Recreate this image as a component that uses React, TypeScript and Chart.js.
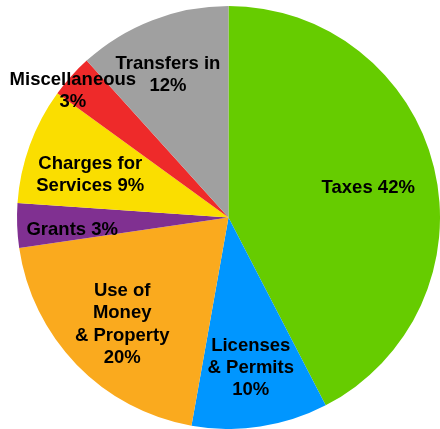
import React, { useEffect, useRef } from "react";
import { Chart, registerables } from "chart.js";

Chart.register(...registerables);

const categories = [
  "Taxes",
  "Licenses & Permits",
  "Use of Money & Property",
  "Grants",
  "Charges for Services",
  "Miscellaneous",
  "Transfers in",
];
const values = [42.4, 10.4, 19.9, 3.4, 8.9, 3.3, 11.7];
// label lines; "{p}" is replaced by the rounded percentage
const labelLines = [
  ["Taxes {p}"],
  ["Licenses", "& Permits", "{p}"],
  ["Use of", "Money", "& Property", "{p}"],
  ["Grants {p}"],
  ["Charges for", "Services {p}"],
  ["Miscellaneous", "{p}"],
  ["Transfers in", "{p}"],
];
const colors = [
  "rgb(102,204,0)",
  "rgb(0,150,255)",
  "rgb(250,170,30)",
  "rgb(128,48,145)",
  "rgb(250,222,0)",
  "rgb(238,42,42)",
  "rgb(160,160,160)",
];
// label placement: fraction of radius, and angle shift in degrees
const labelRadius = [0.68, 0.7, 0.7, 0.74, 0.69, 0.96, 0.75];
const labelAngleShift = [0, 0, 0, -1, -1.3, -2, -1.4];

const labelPlugin = {
  id: "sliceLabels",
  afterDatasetsDraw(chart: any) {
    const meta = chart.getDatasetMeta(0);
    const data = chart.data.datasets[0].data as number[];
    const total = data.reduce((a, b) => a + b, 0);
    const ctx = chart.ctx;
    ctx.save();
    ctx.font = "bold 18.5px 'Liberation Sans', Arial, sans-serif";
    ctx.fillStyle = "#000";
    ctx.textAlign = "center";
    ctx.textBaseline = "middle";
    const lh = 22.3;
    meta.data.forEach((arc: any, i: number) => {
      const p = arc.getProps(["x", "y", "startAngle", "endAngle", "outerRadius"], true);
      const mid = (p.startAngle + p.endAngle) / 2 + (labelAngleShift[i] * Math.PI) / 180;
      const r = p.outerRadius * labelRadius[i];
      const cx = p.x + Math.cos(mid) * r;
      const cy = p.y + Math.sin(mid) * r + 4;
      const pct = Math.round((data[i] / total) * 100) + "%";
      const lines = labelLines[i].map((s) => s.replace("{p}", pct));
      const y0 = cy - ((lines.length - 1) * lh) / 2;
      lines.forEach((line, j) => ctx.fillText(line, cx, y0 + j * lh));
    });
    ctx.restore();
  },
};

export default function App() {
  const ref = useRef<HTMLCanvasElement>(null);
  useEffect(() => {
    document.body.style.margin = "0";
    const chart = new Chart(ref.current!, {
      type: "pie",
      data: {
        labels: categories,
        datasets: [
          {
            data: values,
            backgroundColor: colors,
            borderWidth: 0,
          },
        ],
      },
      options: {
        responsive: false,
        animation: false,
        layout: { padding: { left: 17, right: 0, top: 6, bottom: 0 } },
        plugins: {
          legend: { display: false },
          tooltip: { enabled: false },
        },
      },
      plugins: [labelPlugin],
    });
    return () => chart.destroy();
  }, []);
  return (
    <div style={{ position: "absolute", left: 0, top: 0, width: 440, height: 429, background: "#fff" }}>
      <canvas ref={ref} width={440} height={429} />
    </div>
  );
}
